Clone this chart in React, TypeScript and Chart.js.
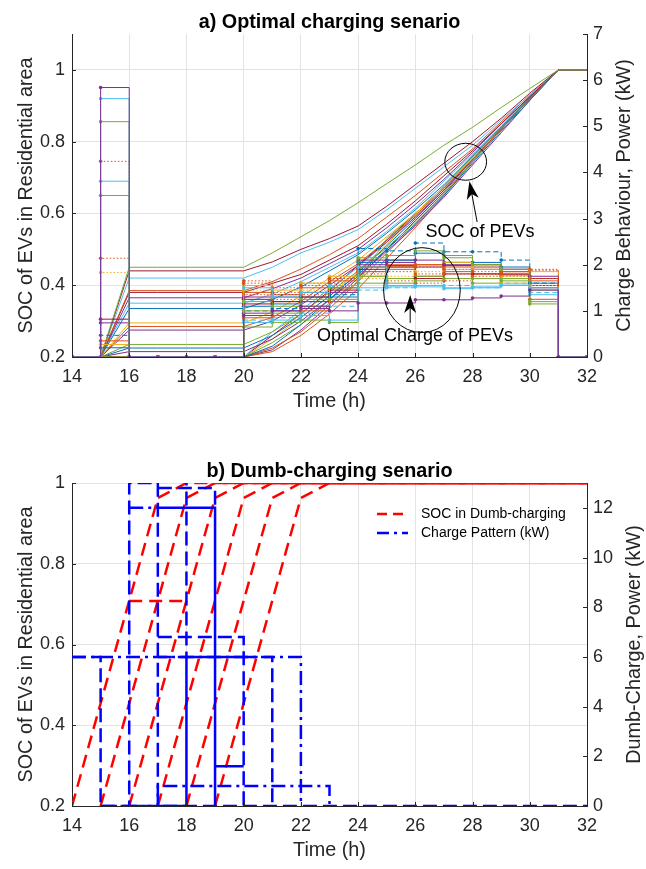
import React, { useEffect, useRef } from 'react';
import { Chart, registerables } from 'chart.js';

Chart.register(...registerables);

const FONT = '"Liberation Sans", Arial, Helvetica, sans-serif';
const AXIS = '#262626';
const GRID = '#e3e3e3';
const BLUE = '#0072BD', ORANGE = '#D95319', YELLOW = '#EDB120', PURPLE = '#7E2F8E',
  GREEN = '#77AC30', CYAN = '#4DBEEE', WINE = '#A2142F';

// ---------------- panel a) : optimal charging ----------------
const hours = [14, 15, 16, 17, 18, 19, 20, 21, 22, 23, 24, 25, 26, 27, 28, 29, 30, 31, 32];

const socColors = [GREEN, WINE, CYAN, ORANGE, WINE, PURPLE, CYAN, BLUE, YELLOW, ORANGE, PURPLE, GREEN, BLUE, PURPLE,
  BLUE, ORANGE, YELLOW, GREEN, CYAN, ORANGE, WINE, PURPLE];
const socLines = [
  [0.2, 0.2, 0.45, 0.45, 0.45, 0.45, 0.45, 0.49, 0.535, 0.58, 0.63, 0.683, 0.735, 0.79, 0.84, 0.895, 0.948, 1, 1],
  [0.2, 0.2, 0.44, 0.44, 0.44, 0.44, 0.44, 0.465, 0.5, 0.53, 0.565, 0.62, 0.68, 0.74, 0.8, 0.865, 0.935, 1, 1],
  [0.2, 0.2, 0.42, 0.42, 0.42, 0.42, 0.42, 0.45, 0.49, 0.52, 0.555, 0.61, 0.67, 0.73, 0.79, 0.86, 0.93, 1, 1],
  [0.2, 0.2, 0.385, 0.385, 0.385, 0.385, 0.385, 0.41, 0.445, 0.485, 0.53, 0.59, 0.65, 0.715, 0.78, 0.855, 0.93, 1, 1],
  [0.2, 0.2, 0.38, 0.38, 0.38, 0.38, 0.38, 0.405, 0.43, 0.47, 0.51, 0.57, 0.635, 0.705, 0.775, 0.85, 0.925, 1, 1],
  [0.2, 0.2, 0.365, 0.365, 0.365, 0.365, 0.365, 0.39, 0.42, 0.46, 0.5, 0.56, 0.625, 0.695, 0.77, 0.85, 0.925, 1, 1],
  [0.2, 0.2, 0.35, 0.35, 0.35, 0.35, 0.35, 0.375, 0.41, 0.45, 0.49, 0.55, 0.615, 0.69, 0.765, 0.845, 0.925, 1, 1],
  [0.2, 0.2, 0.335, 0.335, 0.335, 0.335, 0.335, 0.36, 0.395, 0.44, 0.485, 0.545, 0.61, 0.68, 0.76, 0.84, 0.92, 1, 1],
  [0.2, 0.2, 0.295, 0.295, 0.295, 0.295, 0.295, 0.325, 0.37, 0.42, 0.47, 0.535, 0.6, 0.675, 0.755, 0.84, 0.92, 1, 1],
  [0.2, 0.2, 0.285, 0.285, 0.285, 0.285, 0.285, 0.31, 0.355, 0.41, 0.46, 0.525, 0.595, 0.67, 0.75, 0.835, 0.92, 1, 1],
  [0.2, 0.2, 0.275, 0.275, 0.275, 0.275, 0.275, 0.3, 0.345, 0.4, 0.455, 0.52, 0.59, 0.665, 0.75, 0.835, 0.92, 1, 1],
  [0.2, 0.2, 0.235, 0.235, 0.235, 0.235, 0.235, 0.27, 0.32, 0.38, 0.44, 0.505, 0.575, 0.655, 0.745, 0.835, 0.92, 1, 1],
  [0.2, 0.2, 0.225, 0.225, 0.225, 0.225, 0.225, 0.26, 0.31, 0.37, 0.43, 0.5, 0.57, 0.65, 0.74, 0.83, 0.915, 1, 1],
  [0.2, 0.2, 0.215, 0.215, 0.215, 0.215, 0.215, 0.25, 0.3, 0.36, 0.425, 0.495, 0.565, 0.645, 0.735, 0.825, 0.915, 1, 1],
  [0.2, 0.2, 0.2, 0.2, 0.2, 0.2, 0.2, 0.23, 0.29, 0.36, 0.435, 0.51, 0.585, 0.665, 0.75, 0.835, 0.92, 1, 1],
  [0.2, 0.2, 0.2, 0.2, 0.2, 0.2, 0.2, 0.225, 0.27, 0.335, 0.41, 0.49, 0.57, 0.655, 0.745, 0.835, 0.92, 1, 1],
  [0.2, 0.2, 0.2, 0.2, 0.2, 0.2, 0.2, 0.25, 0.31, 0.37, 0.44, 0.515, 0.59, 0.67, 0.755, 0.84, 0.92, 1, 1],
  [0.2, 0.2, 0.2, 0.2, 0.2, 0.2, 0.2, 0.24, 0.29, 0.35, 0.41, 0.53, 0.6, 0.675, 0.76, 0.84, 0.925, 1, 1],
  [0.2, 0.2, 0.2, 0.2, 0.2, 0.2, 0.2, 0.27, 0.33, 0.39, 0.45, 0.52, 0.595, 0.67, 0.755, 0.84, 0.92, 1, 1],
  [0.2, 0.2, 0.2, 0.2, 0.2, 0.2, 0.2, 0.215, 0.26, 0.32, 0.39, 0.475, 0.56, 0.65, 0.745, 0.835, 0.92, 1, 1],
  [0.2, 0.2, 0.2, 0.2, 0.2, 0.2, 0.2, 0.26, 0.32, 0.385, 0.455, 0.525, 0.6, 0.675, 0.755, 0.84, 0.92, 1, 1],
  [0.2, 0.2, 0.2, 0.2, 0.2, 0.2, 0.2, 0.22, 0.275, 0.345, 0.42, 0.5, 0.58, 0.66, 0.75, 0.835, 0.92, 1, 1],
];

const chargeColors = [PURPLE, CYAN, GREEN, ORANGE, CYAN, GREEN, ORANGE, YELLOW, WINE, PURPLE, BLUE, ORANGE, YELLOW, BLUE,
  GREEN, ORANGE, CYAN, WINE, ORANGE, PURPLE];
const chargeStyles = ['-', '-', '-', ':', '-', '-', ':', ':', '-', '-', '--', '-', '-', '-', '-', '-', '--', '-', ':', '-'];
const chargeLines = [
  [0, 5.84, 0, 0, 0, 0, 0.9, 1.0, 1.1, 1.0, 1.17, 1.17, 1.24, 1.24, 1.28, 1.32, 1.45, 0, 0],
  [0, 5.6, 0, 0, 0, 0, 1.5, 1.3, 1.4, 1.55, 1.95, 1.55, 1.55, 1.5, 1.5, 1.56, 1.5, 0, 0],
  [0, 5.1, 0, 0, 0, 0, 1.2, 1.1, 1.25, 1.5, 2.15, 2.2, 2.3, 2.15, 2.0, 1.9, 1.2, 0, 0],
  [0, 4.24, 0, 0, 0, 0, 1.6, 1.4, 1.55, 1.7, 1.85, 1.95, 1.95, 1.9, 1.85, 1.85, 1.9, 0, 0],
  [0, 3.81, 0, 0, 0, 0, 0.75, 0.8, 0.9, 0.8, 1.5, 1.52, 1.52, 1.48, 1.52, 1.55, 1.35, 0, 0],
  [0, 3.5, 0, 0, 0, 0, 1.0, 0.95, 1.1, 1.25, 1.75, 1.6, 1.65, 1.7, 1.7, 1.65, 1.15, 0, 0],
  [0, 2.14, 0, 0, 0, 0, 1.35, 1.25, 1.35, 1.6, 1.8, 1.85, 1.8, 1.8, 1.75, 1.8, 1.7, 0, 0],
  [0, 1.83, 0, 0, 0, 0, 1.45, 1.35, 1.45, 1.55, 1.7, 1.75, 1.85, 1.9, 1.95, 1.75, 1.55, 0, 0],
  [0, 0.82, 0, 0, 0, 0, 1.15, 1.2, 1.3, 1.45, 1.9, 1.95, 1.7, 1.8, 1.8, 1.78, 1.7, 0, 0],
  [0, 0.74, 0, 0, 0, 0, 1.3, 1.3, 1.2, 1.4, 2.0, 2.05, 2.1, 2.0, 1.95, 1.9, 1.75, 0, 0],
  [0, 0.47, 0, 0, 0, 0, 1.0, 1.05, 1.2, 1.35, 2.35, 2.3, 2.47, 2.28, 2.28, 2.1, 1.6, 0, 0],
  [0, 0.35, 0, 0, 0, 0, 0.85, 0.9, 1.0, 1.2, 1.95, 2.0, 2.0, 1.95, 2.0, 1.85, 1.25, 0, 0],
  [0, 0.27, 0, 0, 0, 0, 1.55, 1.45, 1.6, 1.75, 1.75, 1.95, 2.0, 2.05, 1.9, 1.6, 1.85, 0, 0],
  [0, 0.2, 0, 0, 0, 0, 1.1, 1.15, 1.3, 1.3, 2.05, 2.1, 2.25, 2.05, 2.05, 1.95, 1.6, 0, 0],
  [0, 0, 0, 0, 0, 0, 0.65, 0.75, 0.8, 0.75, 1.6, 1.7, 1.75, 2.2, 1.6, 1.7, 1.45, 0, 0],
  [0, 0, 0, 0, 0, 0, 1.4, 1.2, 1.5, 1.65, 1.85, 1.9, 1.75, 1.85, 1.8, 1.85, 1.65, 0, 0],
  [0, 0, 0, 0, 0, 0, 0.8, 0.85, 0.95, 1.1, 1.45, 1.5, 1.55, 1.55, 1.5, 1.6, 1.4, 0, 0],
  [0, 0, 0, 0, 0, 0, 1.25, 1.35, 1.4, 1.5, 1.95, 1.98, 1.95, 1.98, 1.9, 1.8, 1.5, 0, 0],
  [0, 0, 0, 0, 0, 0, 1.65, 1.5, 1.6, 1.7, 1.85, 1.65, 1.6, 1.65, 1.8, 1.75, 1.88, 0, 0],
  [0, 0, 0, 0, 0, 0, 0.95, 1.0, 1.05, 1.2, 2.1, 2.1, 2.0, 2.05, 2.0, 1.9, 1.55, 0, 0],
];

// annotations of panel a (data units)
const annEllipses = [
  { cx: 27.76, cy: 0.744, axis: 'y', rx: 0.73, ry: 0.0515 },
  { cx: 26.23, cy: 1.45, axis: 'y2', rx: 1.34, ry: 0.92 },
];
const annArrows = [
  { x1: 28.16, y1: 0.576, x2: 27.89, y2: 0.69, axis: 'y' },
  { x1: 25.82, y1: 0.74, x2: 25.82, y2: 1.345, axis: 'y2' },
];
const annTexts = [
  { text: 'SOC of PEVs', x: 28.26, y: 0.548, axis: 'y' },
  { text: 'Optimal Charge of PEVs', x: 25.99, y: 0.455, axis: 'y2' },
];

// ---------------- panel b) : dumb charging ----------------
const dumbSocHours = [
  [14, 17, 18, 32],
  [15, 18, 19, 32],
  [16, 19, 20, 32],
  [17, 20, 21, 32],
  [18, 21, 22, 32],
  [19, 22, 23, 32],
  [16, 18],
];
const dumbSocValues = [
  [0.2, 0.963, 1, 1],
  [0.2, 0.963, 1, 1],
  [0.2, 0.963, 1, 1],
  [0.2, 0.963, 1, 1],
  [0.2, 0.963, 1, 1],
  [0.2, 0.963, 1, 1],
  [0.708, 0.708],
];
// charge pattern (kW) on the hourly grid 14..32, null = EV not present
const N = null;
const dumbChargeStyles = ['-.', '--', '--', '--', '-', '--', '-', '--', '-', '-.', '--', '-.'];
const dumbChargeLines = [
  [6, 6, 6, 6, 6, 6, 6, 6, 0, N, N, N, N, N, N, N, N, N, N],
  [6, 0, 0, 0, 0, 0, 0, 0, 0, 0, 0, 0, 0, 0, 0, 0, 0, 0, 0],
  [N, 0, 13, 0, N, N, N, N, N, N, N, N, N, N, N, N, N, N, N],
  [N, N, N, 12.8, 12.8, 12, N, N, N, N, N, N, N, N, N, N, N, N, N],
  [N, N, N, 12, 12, 0, N, N, N, N, N, N, N, N, N, N, N, N, N],
  [N, N, N, 6.8, 6.8, 6.8, 0, N, N, N, N, N, N, N, N, N, N, N, N],
  [N, N, N, 0, 6, 6, 6, N, N, N, N, N, N, N, N, N, N, N, N],
  [N, N, N, 6, 13, N, N, N, N, N, N, N, N, N, N, N, N, N, N],
  [N, N, N, N, N, 1.6, 1.6, N, N, N, N, N, N, N, N, N, N, N, N],
  [N, N, 0, 0.8, 0.8, 0.8, 0.8, 0.8, 0.8, 0, N, N, N, N, N, N, N, N, N],
  [N, N, N, N, N, N, 6, 0, N, N, N, N, N, N, N, N, N, N, N],
  [N, N, 12, 12, N, N, N, N, N, N, N, N, N, N, N, N, N, N, N],
];
const legendLabels = ['SOC in Dumb-charging', 'Charge Pattern (kW)'];

// ---------------- helpers ----------------
const dashOf = (s: string, kind: 'thin' | 'thick') => {
  if (kind === 'thin') {
    if (s === '--') return [5, 3];
    if (s === ':') return [1.5, 2];
    return [];
  }
  if (s === '--') return [14, 6];
  if (s === '-.') return [14, 5, 3, 5];
  return [];
};

const tickFont = { family: FONT, size: 18 };
const fmt1 = (v: any) => { const n = Math.round(Number(v) * 10) / 10; return String(n); };

function xScale(h: number) {
  return {
    type: 'linear', min: 14, max: 32,
    ticks: { stepSize: 2, padding: 9, color: AXIS, font: tickFont, maxRotation: 0, autoSkip: false },
    grid: { color: GRID, drawTicks: false },
    border: { color: AXIS, width: 1 },
    afterFit: (s: any) => { s.height = h; },
  };
}
function yLeft(min: number, max: number) {
  return {
    type: 'linear', position: 'left', min, max,
    ticks: { stepSize: 0.2, includeBounds: false, padding: 7, color: AXIS, font: tickFont, callback: fmt1 },
    grid: { color: GRID, drawTicks: false },
    border: { color: AXIS, width: 1 },
    afterFit: (s: any) => { s.width = 72; },
  };
}
function yRight(max: number, step: number) {
  return {
    type: 'linear', position: 'right', min: 0, max,
    ticks: { stepSize: step, includeBounds: false, padding: 6, color: AXIS, font: tickFont },
    grid: { display: false, drawTicks: false, drawOnChartArea: false },
    border: { color: AXIS, width: 1 },
    afterFit: (s: any) => { s.width = 59; },
  };
}

function drawArrow(ctx: CanvasRenderingContext2D, x1: number, y1: number, x2: number, y2: number) {
  const ang = Math.atan2(y2 - y1, x2 - x1);
  const L = 18, W = 6, NB = 13;
  const bx = x2 - NB * Math.cos(ang), by = y2 - NB * Math.sin(ang);
  ctx.beginPath();
  ctx.moveTo(x1, y1);
  ctx.lineTo(bx, by);
  ctx.stroke();
  const px = -Math.sin(ang), py = Math.cos(ang);
  const cx = x2 - L * Math.cos(ang), cy = y2 - L * Math.sin(ang);
  ctx.beginPath();
  ctx.moveTo(x2, y2);
  ctx.lineTo(cx + W * px, cy + W * py);
  ctx.lineTo(bx, by);
  ctx.lineTo(cx - W * px, cy - W * py);
  ctx.closePath();
  ctx.fill();
}

function makeOverlay(o: any) {
  return {
    id: 'overlay' + o.key,
    afterDraw(chart: any) {
      const { ctx, chartArea: a, scales } = chart;
      ctx.save();
      // inward tick marks
      ctx.strokeStyle = AXIS; ctx.lineWidth = 1; ctx.setLineDash([]);
      ctx.beginPath();
      scales.x.ticks.forEach((t: any) => {
        const p = Math.round(scales.x.getPixelForValue(t.value)) + 0.5;
        ctx.moveTo(p, a.bottom); ctx.lineTo(p, a.bottom - 4);
      });
      scales.y.ticks.forEach((t: any) => {
        const p = Math.round(scales.y.getPixelForValue(t.value)) + 0.5;
        ctx.moveTo(a.left, p); ctx.lineTo(a.left + 4, p);
      });
      scales.y2.ticks.forEach((t: any) => {
        const p = Math.round(scales.y2.getPixelForValue(t.value)) + 0.5;
        ctx.moveTo(a.right, p); ctx.lineTo(a.right - 4, p);
      });
      ctx.stroke();

      // title
      ctx.fillStyle = '#000';
      ctx.font = `bold 19.8px ${FONT}`;
      ctx.textAlign = 'center'; ctx.textBaseline = 'alphabetic';
      ctx.fillText(o.title, (a.left + a.right) / 2, o.titleY);

      // axis titles
      ctx.fillStyle = AXIS;
      ctx.font = `19.8px ${FONT}`;
      ctx.textBaseline = 'middle';
      ctx.fillText('Time (h)', (a.left + a.right) / 2, a.bottom + o.xTitleOff);
      const midY = (a.top + a.bottom) / 2;
      ctx.textBaseline = 'alphabetic';
      ctx.save(); ctx.translate(o.leftX, midY); ctx.rotate(-Math.PI / 2);
      ctx.fillText(o.leftTitle, 0, 0); ctx.restore();
      ctx.save(); ctx.translate(o.rightX, midY); ctx.rotate(-Math.PI / 2);
      ctx.fillText(o.rightTitle, 0, 0); ctx.restore();

      if (o.extra) o.extra(chart, ctx);
      ctx.restore();
    },
  };
}

function buildTop(): any {
  const socSets = socLines.map((row, i) => ({
    type: 'line',
    data: row.map((v, j) => ({ x: hours[j], y: v })),
    yAxisID: 'y',
    borderColor: socColors[i % socColors.length],
    borderWidth: 1,
    pointRadius: 0,
    tension: 0,
  }));
  const chargeSets = chargeLines.map((row, i) => ({
    type: 'line',
    data: row.map((v, j) => ({ x: hours[j], y: v })),
    yAxisID: 'y2',
    stepped: true,
    borderColor: chargeColors[i],
    borderWidth: 1,
    borderDash: dashOf(chargeStyles[i], 'thin'),
    pointRadius: 1.8,
    pointBorderWidth: 0,
    pointBackgroundColor: chargeColors[i],
  }));
  const extra = (chart: any, ctx: CanvasRenderingContext2D) => {
    const { x } = chart.scales;
    ctx.strokeStyle = '#000'; ctx.fillStyle = '#000'; ctx.lineWidth = 1; ctx.setLineDash([]);
    annEllipses.forEach((e) => {
      const ys = chart.scales[e.axis];
      const cx = x.getPixelForValue(e.cx), cy = ys.getPixelForValue(e.cy);
      const rx = Math.abs(x.getPixelForValue(e.cx + e.rx) - cx);
      const ry = Math.abs(ys.getPixelForValue(e.cy + e.ry) - cy);
      ctx.beginPath(); ctx.ellipse(cx, cy, rx, ry, 0, 0, Math.PI * 2); ctx.stroke();
    });
    annArrows.forEach((ar) => {
      const ys = chart.scales[ar.axis];
      drawArrow(ctx, x.getPixelForValue(ar.x1), ys.getPixelForValue(ar.y1), x.getPixelForValue(ar.x2), ys.getPixelForValue(ar.y2));
    });
    ctx.font = `18px ${FONT}`; ctx.textAlign = 'center'; ctx.textBaseline = 'middle';
    annTexts.forEach((t) => {
      const ys = chart.scales[t.axis];
      ctx.fillText(t.text, x.getPixelForValue(t.x), ys.getPixelForValue(t.y));
    });
  };
  return {
    type: 'line',
    data: { datasets: [...chargeSets, ...socSets] },
    options: {
      responsive: false, animation: false, events: [],
      layout: { padding: { top: 34, left: 0, right: 0, bottom: 0 } },
      plugins: { legend: { display: false }, tooltip: { enabled: false }, title: { display: false } },
      scales: { x: xScale(77), y: yLeft(0.2, 1.1), y2: yRight(7, 1) },
    },
    plugins: [makeOverlay({
      key: 'a', title: 'a) Optimal charging senario', titleY: 28, xTitleOff: 44.5,
      leftTitle: 'SOC of EVs in Residential area', leftX: 32,
      rightTitle: 'Charge Behaviour, Power (kW)', rightX: 629.5, extra,
    })],
  };
}

function buildBottom(): any {
  const redSets = dumbSocHours.map((hs, i) => ({
    type: 'line',
    label: i === 0 ? legendLabels[0] : '',
    data: hs.map((h, j) => ({ x: h, y: dumbSocValues[i][j] })),
    yAxisID: 'y',
    borderColor: '#FF0000',
    borderWidth: 2.5,
    borderDash: [13, 7],
    pointRadius: 0,
  }));
  const blueSets = dumbChargeLines.map((row, i) => ({
    type: 'line',
    label: i === 0 ? legendLabels[1] : '',
    data: row.map((v, j) => ({ x: hours[j], y: v })),
    yAxisID: 'y2',
    stepped: true,
    spanGaps: false,
    borderColor: '#0000FF',
    borderWidth: 2.5,
    borderDash: dashOf(dumbChargeStyles[i], 'thick'),
    pointRadius: 0,
  }));
  const extra = (chart: any, ctx: CanvasRenderingContext2D) => {
    const rows = [
      { label: legendLabels[0], color: '#FF0000', dash: [10, 6], y: 80 },
      { label: legendLabels[1], color: '#0000FF', dash: [12, 5, 3, 5], y: 99 },
    ];
    rows.forEach((r) => {
      ctx.strokeStyle = r.color; ctx.lineWidth = 2.5; ctx.setLineDash(r.dash);
      ctx.beginPath(); ctx.moveTo(377, r.y); ctx.lineTo(408, r.y); ctx.stroke();
      ctx.setLineDash([]);
      ctx.fillStyle = '#000'; ctx.font = `14px ${FONT}`; ctx.textAlign = 'left'; ctx.textBaseline = 'middle';
      ctx.fillText(r.label, 421, r.y);
    });
  };
  return {
    type: 'line',
    data: { datasets: [...blueSets, ...redSets] },
    options: {
      responsive: false, animation: false, events: [],
      layout: { padding: { top: 49, left: 0, right: 0, bottom: 0 } },
      plugins: { legend: { display: false }, tooltip: { enabled: false }, title: { display: false } },
      scales: { x: xScale(63), y: yLeft(0.2, 1), y2: yRight(13, 2) },
    },
    plugins: [makeOverlay({
      key: 'b', title: 'b) Dumb-charging senario', titleY: 42.7, xTitleOff: 44.5,
      leftTitle: 'SOC of EVs in Residential area', leftX: 32,
      rightTitle: 'Dumb-Charge, Power (kW)', rightX: 639.5, extra,
    })],
  };
}

export default function App() {
  const topRef = useRef<HTMLCanvasElement>(null);
  const botRef = useRef<HTMLCanvasElement>(null);
  useEffect(() => {
    const a = new Chart(topRef.current as HTMLCanvasElement, buildTop());
    const b = new Chart(botRef.current as HTMLCanvasElement, buildBottom());
    return () => { a.destroy(); b.destroy(); };
  }, []);
  return (
    <div style={{ position: 'absolute', left: 0, top: 0, width: 646, height: 869, background: '#fff' }}>
      <canvas ref={topRef} width={646} height={434} style={{ position: 'absolute', left: 0, top: 0 }} />
      <canvas ref={botRef} width={646} height={435} style={{ position: 'absolute', left: 0, top: 434 }} />
    </div>
  );
}
